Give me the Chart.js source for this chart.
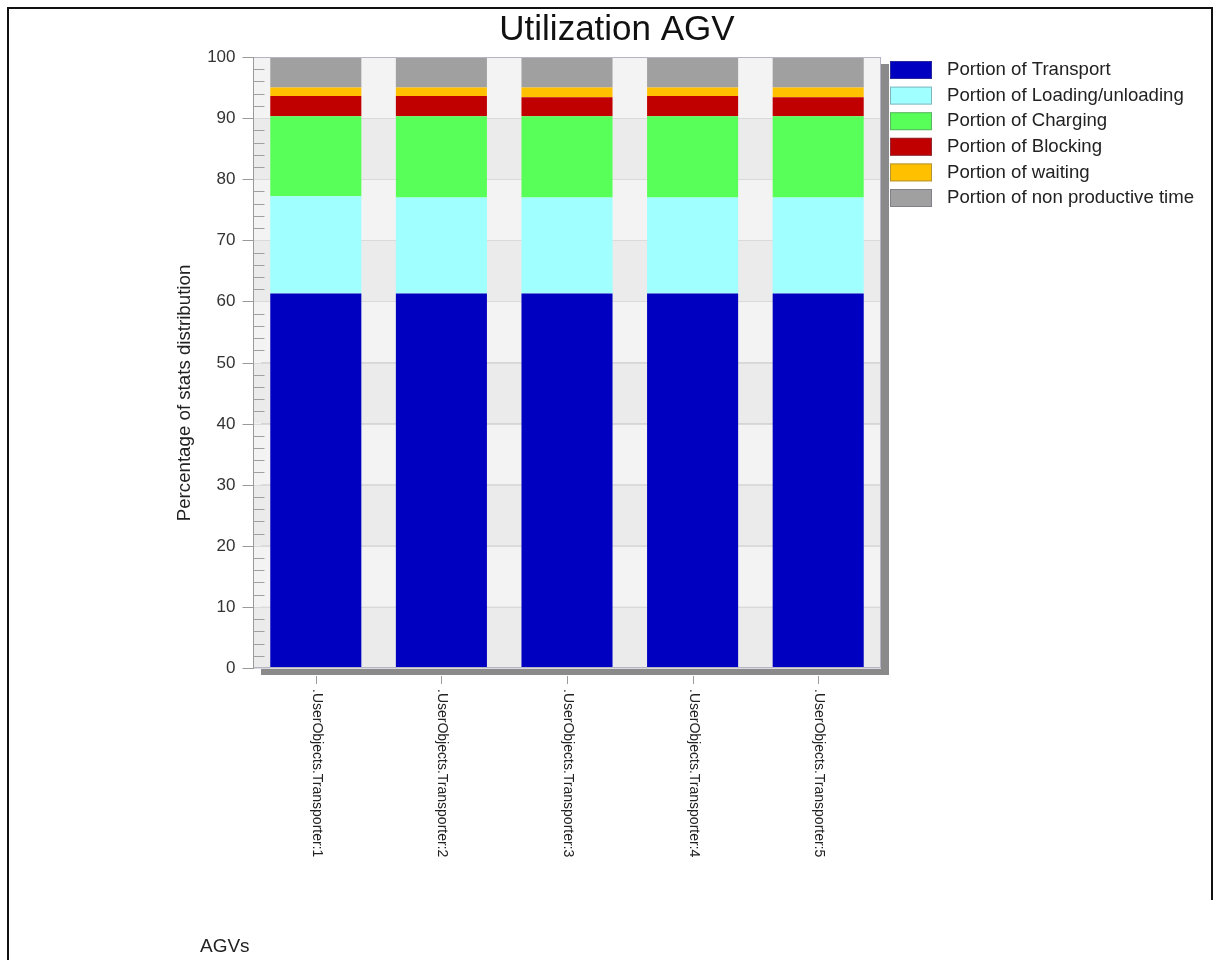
<!DOCTYPE html>
<html>
<head>
<meta charset="utf-8">
<title>Utilization AGV</title>
<script src="https://cdn.jsdelivr.net/npm/chart.js@4/dist/chart.umd.min.js"></script>
<style>
  html, body { margin: 0; padding: 0; background: #ffffff; }
  #wrap { width: 1216px; height: 960px; position: relative; }
</style>
</head>
<body>
<div id="wrap"><canvas id="chart" width="1216" height="960"></canvas></div>
<script>
// AGV names on the category axis
const agvs = [
  '.UserObjects.Transporter:1',
  '.UserObjects.Transporter:2',
  '.UserObjects.Transporter:3',
  '.UserObjects.Transporter:4',
  '.UserObjects.Transporter:5'
];

// Share of time per state, in percent
const transport     = [61.3, 61.3, 61.3, 61.3, 61.3];
const loading       = [15.9, 15.7, 15.7, 15.7, 15.7];
const charging      = [13.1, 13.3, 13.3, 13.3, 13.3];
const blocking      = [3.3, 3.3, 3.1, 3.3, 3.1];
const waiting       = [1.4, 1.4, 1.6, 1.4, 1.6];
const nonProductive = [5.0, 5.0, 5.0, 5.0, 5.0];

const seriesNames = [
  'Portion of Transport',
  'Portion of Loading/unloading',
  'Portion of Charging',
  'Portion of Blocking',
  'Portion of waiting',
  'Portion of non productive time'
];
const seriesColors = ['#0000c0', '#a0ffff', '#58ff58', '#c00000', '#ffc000', '#a0a0a0'];

const yTicks = [0, 10, 20, 30, 40, 50, 60, 70, 80, 90, 100];
const yMinorStep = 2;

const chartTitle = 'Utilization AGV';
const yTitle = 'Percentage of stats distribution';
const xTitle = 'AGVs';

const FONT = '"Liberation Sans", Arial, sans-serif';

const seriesValues = [transport, loading, charging, blocking, waiting, nonProductive];

// Plot panel: shadow, bands, gridlines, axes, texts and legend
const panel = {
  id: 'panel',
  beforeDatasetsDraw(chart) {
    const { ctx, chartArea: ca, scales: { y } } = chart;
    ctx.save();
    // drop shadow of the plot panel
    ctx.fillStyle = '#8a8a8a';
    ctx.fillRect(ca.left + 8, ca.top + 7, ca.right - ca.left, ca.bottom - ca.top);
    // alternating horizontal bands
    for (let i = 0; i < yTicks.length - 1; i++) {
      const yLow = y.getPixelForValue(yTicks[i]);
      const yHigh = y.getPixelForValue(yTicks[i + 1]);
      ctx.fillStyle = (i % 2 === 0) ? '#ebebeb' : '#f3f3f3';
      ctx.fillRect(ca.left, yHigh, ca.right - ca.left, yLow - yHigh);
    }
    // gridlines
    ctx.strokeStyle = '#dadada';
    ctx.lineWidth = 1;
    yTicks.forEach(v => {
      const py = Math.round(y.getPixelForValue(v)) + 0.5;
      ctx.beginPath();
      ctx.moveTo(ca.left, py);
      ctx.lineTo(ca.right, py);
      ctx.stroke();
    });
    ctx.restore();
  },
  afterDatasetsDraw(chart) {
    const { ctx, chartArea: ca, scales: { x, y } } = chart;
    ctx.save();

    // panel frame
    ctx.strokeStyle = '#b4b4c4';
    ctx.lineWidth = 1;
    ctx.strokeRect(ca.left + 0.5, ca.top + 0.5, ca.right - ca.left - 1, ca.bottom - ca.top - 1);

    // y axis line
    const ax = ca.left + 0.5;
    ctx.strokeStyle = '#9a9a9a';
    ctx.beginPath();
    ctx.moveTo(ax, ca.top);
    ctx.lineTo(ax, ca.bottom + 1);
    ctx.stroke();

    // minor ticks (inside the panel)
    ctx.strokeStyle = '#a0a0a0';
    const yMin = yTicks[0], yMax = yTicks[yTicks.length - 1];
    for (let v = yMin; v <= yMax; v += yMinorStep) {
      if (yTicks.includes(v)) continue;
      const py = Math.round(y.getPixelForValue(v)) + 0.5;
      ctx.beginPath();
      ctx.moveTo(ax, py);
      ctx.lineTo(ax + 11, py);
      ctx.stroke();
    }

    // major ticks and labels
    ctx.fillStyle = '#333333';
    ctx.font = '17px ' + FONT;
    ctx.textAlign = 'right';
    ctx.textBaseline = 'middle';
    yTicks.forEach(v => {
      const py = Math.round(y.getPixelForValue(v)) + 0.5;
      ctx.strokeStyle = '#9a9a9a';
      ctx.beginPath();
      ctx.moveTo(ax - 11, py);
      ctx.lineTo(ax, py);
      ctx.stroke();
      ctx.fillText(String(v), ax - 18, py);
    });

    // x ticks and rotated category labels
    chart.data.labels.forEach((lab, i) => {
      const px = Math.round(x.getPixelForValue(i)) + 0.5;
      ctx.strokeStyle = '#9a9a9a';
      ctx.beginPath();
      ctx.moveTo(px, ca.bottom + 8);
      ctx.lineTo(px, ca.bottom + 16);
      ctx.stroke();
      ctx.save();
      ctx.translate(px, ca.bottom + 21);
      ctx.rotate(Math.PI / 2);
      ctx.textAlign = 'left';
      ctx.textBaseline = 'middle';
      ctx.fillStyle = '#222222';
      ctx.font = '14px ' + FONT;
      ctx.fillText(lab, 0, 0);
      ctx.restore();
    });

    // y axis title
    ctx.save();
    ctx.translate(185, 393);
    ctx.rotate(-Math.PI / 2);
    ctx.textAlign = 'center';
    ctx.textBaseline = 'middle';
    ctx.fillStyle = '#222222';
    ctx.font = '18.7px ' + FONT;
    ctx.fillText(yTitle, 0, 0);
    ctx.restore();

    // x axis title
    ctx.fillStyle = '#222222';
    ctx.font = '19px ' + FONT;
    ctx.textAlign = 'left';
    ctx.textBaseline = 'middle';
    ctx.fillText(xTitle, 200, 947);

    // chart title
    ctx.font = '35px ' + FONT;
    ctx.textAlign = 'center';
    ctx.fillStyle = '#111111';
    ctx.fillText(chartTitle, 617, 30);

    // legend
    ctx.font = '18.6px ' + FONT;
    ctx.textAlign = 'left';
    chart.data.datasets.forEach((ds, i) => {
      const cy = 70 + i * 25.6;
      ctx.fillStyle = ds.backgroundColor;
      ctx.fillRect(890, cy - 9, 42, 18);
      ctx.strokeStyle = 'rgba(90,90,110,0.45)';
      ctx.strokeRect(890.5, cy - 8.5, 41, 17);
      ctx.fillStyle = '#222222';
      ctx.fillText(ds.label, 947, cy);
    });

    // outer frame
    ctx.strokeStyle = '#111111';
    ctx.lineWidth = 2;
    ctx.beginPath();
    ctx.moveTo(8, 960);
    ctx.lineTo(8, 8);
    ctx.lineTo(1212, 8);
    ctx.lineTo(1212, 900);
    ctx.stroke();

    ctx.restore();
  }
};

new Chart(document.getElementById('chart'), {
  type: 'bar',
  data: {
    labels: agvs,
    datasets: seriesValues.map((vals, i) => ({
      label: seriesNames[i],
      data: vals,
      backgroundColor: seriesColors[i],
      borderWidth: 0,
      categoryPercentage: 1,
      barPercentage: 0.725
    }))
  },
  options: {
    responsive: false,
    animation: false,
    devicePixelRatio: 1,
    layout: { padding: { left: 253, top: 57, right: 335, bottom: 292 } },
    scales: {
      x: { stacked: true, display: false },
      y: { stacked: true, display: false, min: 0, max: 100 }
    },
    plugins: {
      legend: { display: false },
      title: { display: false },
      tooltip: { enabled: false }
    }
  },
  plugins: [panel]
});
</script>
</body>
</html>
